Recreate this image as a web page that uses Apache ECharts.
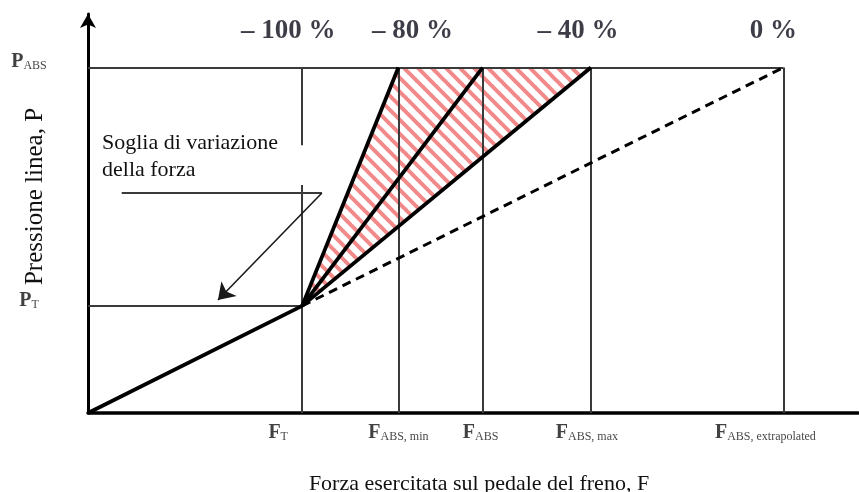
<!DOCTYPE html>
<html>
<head>
<meta charset="utf-8">
<script src="https://cdn.jsdelivr.net/npm/echarts@6/dist/echarts.min.js"></script>
<style>
  html, body { margin: 0; padding: 0; background: #fff; }
  #chart { width: 859px; height: 492px; }
</style>
</head>
<body>
<div id="chart"></div>
<script>
// Brake pedal force thresholds (F) and line pressure levels (P)
const forceNames = ['T', 'ABS, min', 'ABS', 'ABS, max', 'ABS, extrapolated'];
const forceValues = [44.5, 64.5, 82, 104.5, 144.5];
const pressureNames = ['T', 'ABS'];
const pressureValues = [31, 100];
const percentLabels = ['– 100 %', '– 80 %', '– 40 %', '0 %'];
const percentValues = [-100, -80, -40, 0];

// Callout leader for the force-variation threshold (F, P)
const leaderStart = [7, 63.7];
const leaderElbow = [48.6, 63.7];
const leaderTip = [27, 32.7];
// the F_T guide is interrupted between these pressures
const ftGuideBreak = [66, 77.5];

const [fT, fMin, fAbs, fMax, fExt] = forceValues;
const [pT, pAbs] = pressureValues;
// percentage scale: -100 % at F_T, 0 % at the extrapolated force
const pctX = p => fExt + p / 100 * (fExt - fT);

const SERIF = '"Liberation Serif", "Times New Roman", serif';
const INK = '#111';
const GUIDE = '#3a3a3a';

// label nudges (px) for the subscripted force labels and percentage labels
const forceLabelShift = [-24, 0, -2, -4, -18];
const percentLabelShift = [-14, 14, -13, -10];

// repeating tile for the red diagonal hatching
function hatchTile() {
  const s = 14;
  const c = document.createElement('canvas');
  c.width = s; c.height = s;
  const g = c.getContext('2d');
  g.strokeStyle = '#f28a8a';
  g.lineWidth = 4;
  g.beginPath();
  for (const o of [-s, 0, s]) { g.moveTo(o - 1, -1); g.lineTo(o + s + 1, s + 1); }
  g.stroke();
  return c;
}
const tile = hatchTile();

const rich = {
  m: { fontFamily: SERIF, fontWeight: 'bold', fontSize: 20, color: INK, lineHeight: 24, verticalAlign: 'bottom' },
  s: { fontFamily: SERIF, fontSize: 12, color: INK, lineHeight: 19, verticalAlign: 'bottom' }
};

const seg = (a, b) => ({ coords: [a, b] });

const guides = [
  seg([0, pAbs], [fExt, pAbs]),
  seg([0, pT], [fT, pT]),
  seg([fT, 0], [fT, ftGuideBreak[0]]),
  seg([fT, ftGuideBreak[1]], [fT, pAbs]),
  ...forceValues.slice(1).map(f => seg([f, 0], [f, pAbs]))
];

const solidCurves = [
  seg([0, 0], [fT, pT]),
  seg([fT, pT], [fMin, pAbs]),
  seg([fT, pT], [fAbs, pAbs]),
  seg([fT, pT], [fMax, pAbs])
];

const chart = echarts.init(document.getElementById('chart'), null, { renderer: 'canvas' });

chart.setOption({
  animation: false,
  backgroundColor: '#fff',
  grid: { left: 88, right: 1, top: 14, bottom: 79, containLabel: false, outerBoundsMode: 'none' },
  xAxis: {
    type: 'value', min: 0, max: 160,
    axisLine: { show: true, onZero: false, lineStyle: { color: '#000', width: 3.5 } },
    axisTick: { show: false }, axisLabel: { show: false }, splitLine: { show: false },
    name: 'Forza esercitata sul pedale del freno, F',
    nameLocation: 'middle', nameGap: 60,
    nameTextStyle: { fontFamily: SERIF, fontSize: 22, color: INK, padding: [0, 0, 0, 12] }
  },
  yAxis: {
    type: 'value', min: 0, max: 115.5,
    axisLine: { show: true, onZero: false, symbol: ['none', 'arrow'], symbolSize: [12, 14],
      lineStyle: { color: '#000', width: 3 } },
    axisTick: { show: false }, axisLabel: { show: false }, splitLine: { show: false },
    name: 'Pressione linea, P',
    nameLocation: 'middle', nameGap: 40,
    nameTextStyle: { fontFamily: SERIF, fontSize: 25, color: INK, padding: [0, 0, 0, 34] }
  },
  graphic: [{
    type: 'text', left: 102, top: 130, silent: true,
    style: { text: 'Soglia di variazione\ndella forza', font: '22px ' + SERIF, fill: INK, lineHeight: 27 }
  }],
  series: [
    {
      // operating band between F_ABS,min and F_ABS,max
      type: 'custom', coordinateSystem: 'cartesian2d', silent: true, z: 1,
      data: [[fT, pT, fMin, fMax, pAbs]],
      renderItem: (params, api) => ({
        type: 'polygon',
        shape: { points: [
          api.coord([api.value(0), api.value(1)]),
          api.coord([api.value(2), api.value(4)]),
          api.coord([api.value(3), api.value(4)])
        ] },
        style: { fill: { image: tile, repeat: 'repeat' } }
      })
    },
    {
      type: 'lines', coordinateSystem: 'cartesian2d', silent: true, z: 2,
      lineStyle: { color: GUIDE, width: 2, opacity: 1 },
      data: guides
    },
    {
      type: 'lines', coordinateSystem: 'cartesian2d', silent: true, z: 4,
      lineStyle: { color: '#000', width: 3.8, opacity: 1 },
      data: solidCurves
    },
    {
      type: 'lines', coordinateSystem: 'cartesian2d', silent: true, z: 4,
      lineStyle: { color: '#000', width: 3, type: [9, 6], opacity: 1 },
      data: [seg([fT, pT], [fExt, pAbs])]
    },
    {
      type: 'lines', coordinateSystem: 'cartesian2d', silent: true, z: 3,
      lineStyle: { color: GUIDE, width: 2, opacity: 1 },
      data: [seg(leaderStart, leaderElbow)]
    },
    {
      type: 'lines', coordinateSystem: 'cartesian2d', silent: true, z: 3,
      symbol: ['none', 'arrow'], symbolSize: [13, 16],
      lineStyle: { color: '#1a1a1a', width: 1.6, opacity: 1 },
      itemStyle: { color: '#000' },
      data: [seg(leaderElbow, leaderTip)]
    },
    {
      // force labels under the axis
      type: 'scatter', silent: true, z: 5, symbolSize: 0.1,
      itemStyle: { color: 'rgba(0,0,0,0)' },
      label: { show: true, position: 'bottom', distance: 6, rich,
        formatter: p => '{m|F}{s|' + p.name + '}' },
      data: forceValues.map((f, i) => ({
        name: forceNames[i], value: [f, 0], label: { offset: [forceLabelShift[i], 0] }
      }))
    },
    {
      // pressure labels left of the axis
      type: 'scatter', silent: true, z: 5, symbolSize: 0.1,
      itemStyle: { color: 'rgba(0,0,0,0)' },
      label: { show: true, position: 'inside', offset: [-59, -7.5], rich,
        formatter: p => '{m|P}{s|' + p.name + '}' },
      data: pressureValues.map((v, i) => ({ name: pressureNames[i], value: [0, v] }))
    },
    {
      // percentage scale above the P_ABS level
      type: 'scatter', silent: true, z: 5, symbolSize: 0.1,
      itemStyle: { color: 'rgba(0,0,0,0)' },
      label: { show: true, position: 'inside',
        fontFamily: SERIF, fontWeight: 'bold', fontSize: 27, color: '#0d0d1a',
        formatter: p => p.name },
      data: percentValues.map((v, i) => ({
        name: percentLabels[i], value: [pctX(v), pAbs],
        label: { offset: [percentLabelShift[i], -37] }
      }))
    }
  ]
});
</script>
</body>
</html>
